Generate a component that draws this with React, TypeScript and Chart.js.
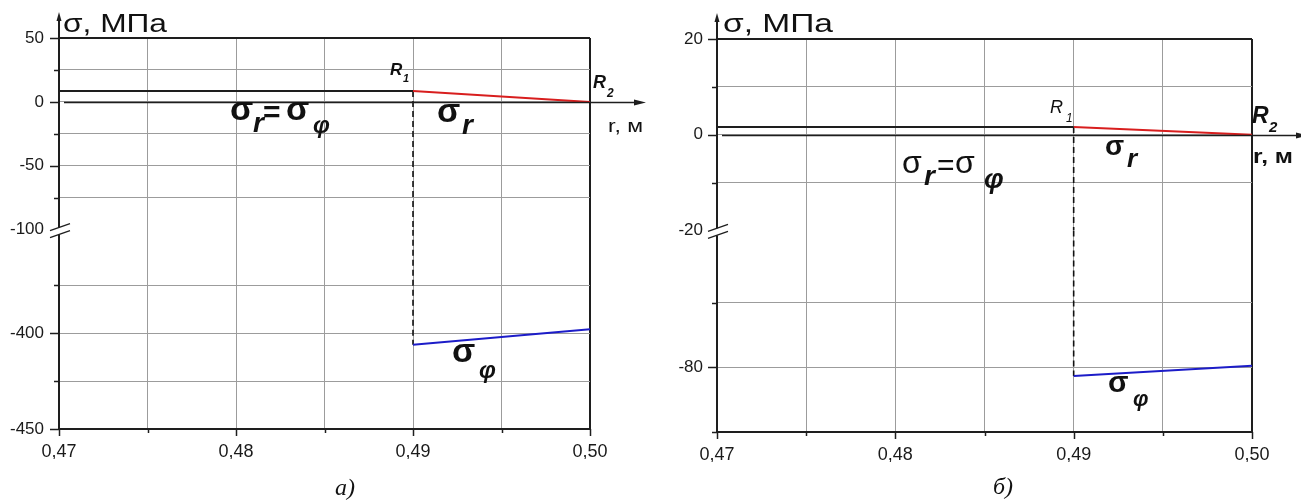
import React, { useEffect, useRef } from 'react';
import { Chart, registerables } from 'chart.js';
Chart.register(...registerables);

// ---------------- data ----------------
const R_TICKS = [0.47, 0.475, 0.48, 0.485, 0.49, 0.495, 0.5];
const R_LABELED = [0.47, 0.48, 0.49, 0.5];
const R_INNER = [0.47, 0.49]; // r from start of plot to R1
const R_OUTER = [0.49, 0.5]; // r from R1 to R2

// panel а)
const A_SIGMA_INNER = [8.6, 8.6];
const A_SIGMA_R = [8.6, 0];
const A_SIGMA_PHI = [-406, -398];
const A_TOP_RANGE = [-100, 50];
const A_BOT_RANGE = [-450, -346];
const A_TOP_TICKS = [50, 25, 0, -25, -50, -75, -100];
const A_TOP_LABELED = [50, 0, -50, -100];
const A_BOT_TICKS = [-375, -400, -425, -450];
const A_BOT_LABELED = [-400, -450];

// panel б)
const B_SIGMA_INNER = [1.6, 1.6];
const B_SIGMA_R = [1.6, 0];
const B_SIGMA_PHI = [-81.35, -79.75];
const B_TOP_RANGE = [-20, 20];
const B_BOT_RANGE = [-90, -58.8];
const B_TOP_TICKS = [20, 10, 0, -10, -20];
const B_TOP_LABELED = [20, 0, -20];
const B_BOT_TICKS = [-70, -80, -90];
const B_BOT_LABELED = [-80];

// ---------------- styles ----------------
const SANS = '"Liberation Sans", Arial, sans-serif';
const SERIF = '"Liberation Serif", "Times New Roman", serif';
const AXIS = '#1e1e1e';
const GRID = '#9c9c9c';
const RED = '#d81e1e';
const BLUE = '#1c1cc8';

const near = (a: any, b: number) => typeof a === 'number' && Math.abs(a - b) < 1e-9;
const inList = (v: any, list: number[]) => list.some((l) => near(v, l));

type Part = { t: string; x: number; y: number; font: string; w?: number };

interface PanelCfg {
  width: number;
  inner: number[];
  sigR: number[];
  sigPhi: number[];
  topRange: number[];
  botRange: number[];
  topTicks: number[];
  topLabeled: number[];
  botTicks: number[];
  botLabeled: number[];
  weights: number[];
  padding: { left: number; right: number; top: number; bottom: number };
  yWidth: number;
  yPad: number;
  texts: Part[];
}

const PANEL_A: PanelCfg = {
  width: 650,
  inner: A_SIGMA_INNER,
  sigR: A_SIGMA_R,
  sigPhi: A_SIGMA_PHI,
  topRange: A_TOP_RANGE,
  botRange: A_BOT_RANGE,
  topTicks: A_TOP_TICKS,
  topLabeled: A_TOP_LABELED,
  botTicks: A_BOT_TICKS,
  botLabeled: A_BOT_LABELED,
  weights: [192, 199.6],
  padding: { left: 0, right: 60, top: 38, bottom: 43 },
  yWidth: 59,
  yPad: 15,
  texts: [
    { t: 'σ, МПа', x: 63, y: 32, font: `25px ${SANS}`, w: 104 },
    { t: 'r, м', x: 608, y: 132, font: `19px ${SANS}`, w: 35 },
    { t: 'R', x: 390, y: 75, font: `italic bold 17px ${SANS}` },
    { t: '1', x: 403, y: 82, font: `italic bold 11px ${SANS}` },
    { t: 'R', x: 593, y: 88, font: `italic bold 18px ${SANS}` },
    { t: '2', x: 607, y: 97, font: `italic bold 12px ${SANS}` },
    { t: 'σ', x: 230, y: 120, font: `bold 34px ${SANS}` },
    { t: 'r', x: 253, y: 132, font: `italic bold 28px ${SANS}` },
    { t: '=', x: 263, y: 122, font: `bold 30px ${SANS}` },
    { t: 'σ', x: 286, y: 120, font: `bold 34px ${SANS}` },
    { t: 'φ', x: 313, y: 133, font: `italic bold 24px ${SANS}` },
    { t: 'σ', x: 437, y: 122, font: `bold 34px ${SANS}` },
    { t: 'r', x: 462, y: 134, font: `italic bold 28px ${SANS}` },
    { t: 'σ', x: 452, y: 362, font: `bold 34px ${SANS}` },
    { t: 'φ', x: 479, y: 378, font: `italic bold 24px ${SANS}` },
    { t: 'а)', x: 335, y: 495, font: `italic 24px ${SERIF}` },
  ],
};

const PANEL_B: PanelCfg = {
  width: 651,
  inner: B_SIGMA_INNER,
  sigR: B_SIGMA_R,
  sigPhi: B_SIGMA_PHI,
  topRange: B_TOP_RANGE,
  botRange: B_BOT_RANGE,
  topTicks: B_TOP_TICKS,
  topLabeled: B_TOP_LABELED,
  botTicks: B_BOT_TICKS,
  botLabeled: B_BOT_LABELED,
  weights: [191.1, 201.3],
  padding: { left: 8, right: 49, top: 39, bottom: 40 },
  yWidth: 59,
  yPad: 14,
  texts: [
    { t: 'σ, МПа', x: 73, y: 32, font: `25px ${SANS}`, w: 110 },
    { t: 'r, м', x: 603, y: 163, font: `bold 20px ${SANS}`, w: 40 },
    { t: 'R', x: 400, y: 113, font: `italic 18px ${SANS}` },
    { t: '1', x: 416, y: 122, font: `italic 12px ${SANS}` },
    { t: 'R', x: 602, y: 123, font: `italic bold 23px ${SANS}` },
    { t: '2', x: 619, y: 132, font: `italic bold 15px ${SANS}` },
    { t: 'σ', x: 252, y: 173, font: `32px ${SANS}` },
    { t: 'r', x: 274, y: 185, font: `italic bold 28px ${SANS}` },
    { t: '=', x: 287, y: 175, font: `30px ${SANS}` },
    { t: 'σ', x: 305, y: 173, font: `32px ${SANS}` },
    { t: 'φ', x: 334, y: 188, font: `italic bold 28px ${SANS}` },
    { t: 'σ', x: 455, y: 155, font: `bold 28px ${SANS}` },
    { t: 'r', x: 477, y: 167, font: `italic bold 26px ${SANS}` },
    { t: 'σ', x: 458, y: 392, font: `bold 30px ${SANS}` },
    { t: 'φ', x: 483, y: 406, font: `italic bold 22px ${SANS}` },
    { t: 'б)', x: 343, y: 494, font: `italic 24px ${SERIF}` },
  ],
};

const pts = (xs: number[], ys: number[]) => xs.map((x, i) => ({ x, y: ys[i] }));

function line(ctx: CanvasRenderingContext2D, x1: number, y1: number, x2: number, y2: number) {
  ctx.beginPath();
  ctx.moveTo(x1, y1);
  ctx.lineTo(x2, y2);
  ctx.stroke();
}

function makeDecor(cfg: PanelCfg) {
  return {
    id: 'decor',
    afterDraw(chart: any) {
      const ctx: CanvasRenderingContext2D = chart.ctx;
      const { left, right, top, bottom } = chart.chartArea;
      const xS = chart.scales.x;
      const yT = chart.scales.yTop;
      const yB = chart.scales.yBot;
      ctx.save();
      ctx.strokeStyle = AXIS;
      ctx.fillStyle = AXIS;
      ctx.lineWidth = 1.5;
      // y tick marks
      for (const t of yT.ticks) {
        if (near(t.value, cfg.topRange[0])) continue;
        const py = Math.round(yT.getPixelForValue(t.value)) + 0.5;
        line(ctx, left - (inList(t.value, cfg.topLabeled) ? 9 : 5), py, left, py);
      }
      for (const t of yB.ticks) {
        const py = Math.round(yB.getPixelForValue(t.value)) + 0.5;
        line(ctx, left - (inList(t.value, cfg.botLabeled) ? 9 : 5), py, left, py);
      }
      // x tick marks
      for (const t of xS.ticks) {
        const px = Math.round(xS.getPixelForValue(t.value)) + 0.5;
        line(ctx, px, bottom, px, bottom + (inList(t.value, R_LABELED) ? 7 : 4));
      }
      // y axis arrow
      ctx.lineWidth = 2;
      line(ctx, left, top, left, top - 20);
      ctx.beginPath();
      ctx.moveTo(left, top - 26);
      ctx.lineTo(left - 2.5, top - 17);
      ctx.lineTo(left + 2.5, top - 17);
      ctx.closePath();
      ctx.fill();
      // r axis (zero line) arrow
      const y0 = Math.round(yT.getPixelForValue(0)) + 0.5;
      ctx.lineWidth = 1.5;
      line(ctx, left + 5, y0, right + 46, y0);
      ctx.beginPath();
      ctx.moveTo(right + 56, y0);
      ctx.lineTo(right + 44, y0 - 3);
      ctx.lineTo(right + 44, y0 + 3);
      ctx.closePath();
      ctx.fill();
      // axis break symbol
      const yb = yT.bottom;
      ctx.fillStyle = '#ffffff';
      ctx.beginPath();
      ctx.moveTo(left - 3, yb - 1);
      ctx.lineTo(left + 3, yb - 3);
      ctx.lineTo(left + 3, yb + 4);
      ctx.lineTo(left - 3, yb + 6);
      ctx.closePath();
      ctx.fill();
      ctx.strokeStyle = AXIS;
      ctx.lineWidth = 1.3;
      line(ctx, left - 9, yb + 1, left + 11, yb - 6);
      line(ctx, left - 9, yb + 8, left + 11, yb + 1);
      // text
      ctx.fillStyle = '#111';
      ctx.textBaseline = 'alphabetic';
      ctx.textAlign = 'left';
      for (const p of cfg.texts) {
        ctx.save();
        ctx.font = p.font;
        ctx.translate(p.x, p.y);
        if (p.w) {
          const m = ctx.measureText(p.t).width;
          ctx.scale(p.w / m, 1);
        }
        ctx.fillText(p.t, 0, 0);
        ctx.restore();
      }
      ctx.restore();
    },
  };
}

function Panel({ cfg, offset }: { cfg: PanelCfg; offset: number }) {
  const ref = useRef<HTMLCanvasElement>(null);
  useEffect(() => {
    if (!ref.current) return;
    Chart.defaults.font.family = SANS;
    const [tMin, tMax] = cfg.topRange;
    const [bMin, bMax] = cfg.botRange;
    const yScale = (min: number, max: number, ticks: number[], labeled: number[], weight: number, isTop: boolean) => ({
      type: 'linear',
      position: 'left',
      stack: 'sigma',
      stackWeight: weight,
      min,
      max,
      offset: false,
      afterBuildTicks: (s: any) => {
        s.ticks = ticks.map((value) => ({ value }));
      },
      afterFit: (s: any) => {
        s.width = cfg.yWidth;
      },
      border: { display: true, color: AXIS, width: 2 },
      grid: {
        drawTicks: false,
        color: (c: any) => {
          const v = c.tick ? c.tick.value : NaN;
          if (isTop && near(v, tMax)) return AXIS;
          if (isTop && near(v, tMin)) return 'rgba(0,0,0,0)';
          if (!isTop && near(v, bMin)) return AXIS;
          return GRID;
        },
        lineWidth: (c: any) => {
          const v = c.tick ? c.tick.value : NaN;
          return isTop && near(v, tMax) ? 2 : 1;
        },
      },
      ticks: {
        autoSkip: false,
        padding: cfg.yPad,
        color: '#1a1a1a',
        font: { size: 17, family: SANS },
        callback: (v: any) => (inList(v, labeled) ? String(v) : ''),
      },
    });
    const chart = new Chart(ref.current, {
      type: 'line',
      data: {
        datasets: [
          { label: 'σr=σφ', data: pts(R_INNER, cfg.inner), yAxisID: 'yTop', borderColor: AXIS, borderWidth: 2 },
          { label: 'σr', data: pts(R_OUTER, cfg.sigR), yAxisID: 'yTop', borderColor: RED, borderWidth: 2 },
          { label: 'σφ', data: pts(R_OUTER, cfg.sigPhi), yAxisID: 'yBot', borderColor: BLUE, borderWidth: 2 },
          {
            label: 'R1 upper',
            data: [
              { x: R_OUTER[0], y: cfg.sigR[0] },
              { x: R_OUTER[0], y: tMin },
            ],
            yAxisID: 'yTop',
            borderColor: '#111111',
            borderWidth: 1.6,
            borderDash: [6, 4],
          },
          {
            label: 'R1 lower',
            data: [
              { x: R_OUTER[0], y: bMax },
              { x: R_OUTER[0], y: cfg.sigPhi[0] },
            ],
            yAxisID: 'yBot',
            borderColor: '#111111',
            borderWidth: 1.6,
            borderDash: [6, 4],
          },
        ],
      },
      options: {
        animation: false,
        responsive: false,
        devicePixelRatio: 1,
        layout: { padding: cfg.padding },
        plugins: { legend: { display: false }, tooltip: { enabled: false } },
        elements: { point: { radius: 0 }, line: { tension: 0 } },
        scales: {
          x: {
            type: 'linear',
            min: R_TICKS[0],
            max: R_TICKS[R_TICKS.length - 1],
            afterBuildTicks: (s: any) => {
              s.ticks = R_TICKS.map((value) => ({ value }));
            },
            afterFit: (s: any) => {
              s.height = 30;
            },
            border: { display: true, color: AXIS, width: 2 },
            grid: {
              drawTicks: false,
              color: (c: any) => (c.tick && near(c.tick.value, 0.5) ? AXIS : GRID),
              lineWidth: (c: any) => (c.tick && near(c.tick.value, 0.5) ? 2 : 1),
            },
            ticks: {
              autoSkip: false,
              maxRotation: 0,
              padding: 12,
              color: '#1a1a1a',
              font: { size: 18, family: SANS },
              callback: (v: any) => (inList(v, R_LABELED) ? Number(v).toFixed(2).replace('.', ',') : ''),
            },
          },
          // left-side stacked boxes are laid out in reverse order: bottom segment first
          yBot: yScale(bMin, bMax, cfg.botTicks, cfg.botLabeled, cfg.weights[1], false),
          yTop: yScale(tMin, tMax, cfg.topTicks, cfg.topLabeled, cfg.weights[0], true),
        } as any,
      },
      plugins: [makeDecor(cfg)],
    } as any);
    return () => chart.destroy();
  }, [cfg]);
  return (
    <canvas
      ref={ref}
      width={cfg.width}
      height={502}
      style={{ position: 'absolute', left: offset, top: 0, width: cfg.width, height: 502, display: 'block' }}
    />
  );
}

export default function App() {
  return (
    <div style={{ position: 'absolute', left: 0, top: 0, width: 1301, height: 502, background: '#ffffff', overflow: 'hidden' }}>
      <Panel cfg={PANEL_A} offset={0} />
      <Panel cfg={PANEL_B} offset={650} />
    </div>
  );
}
